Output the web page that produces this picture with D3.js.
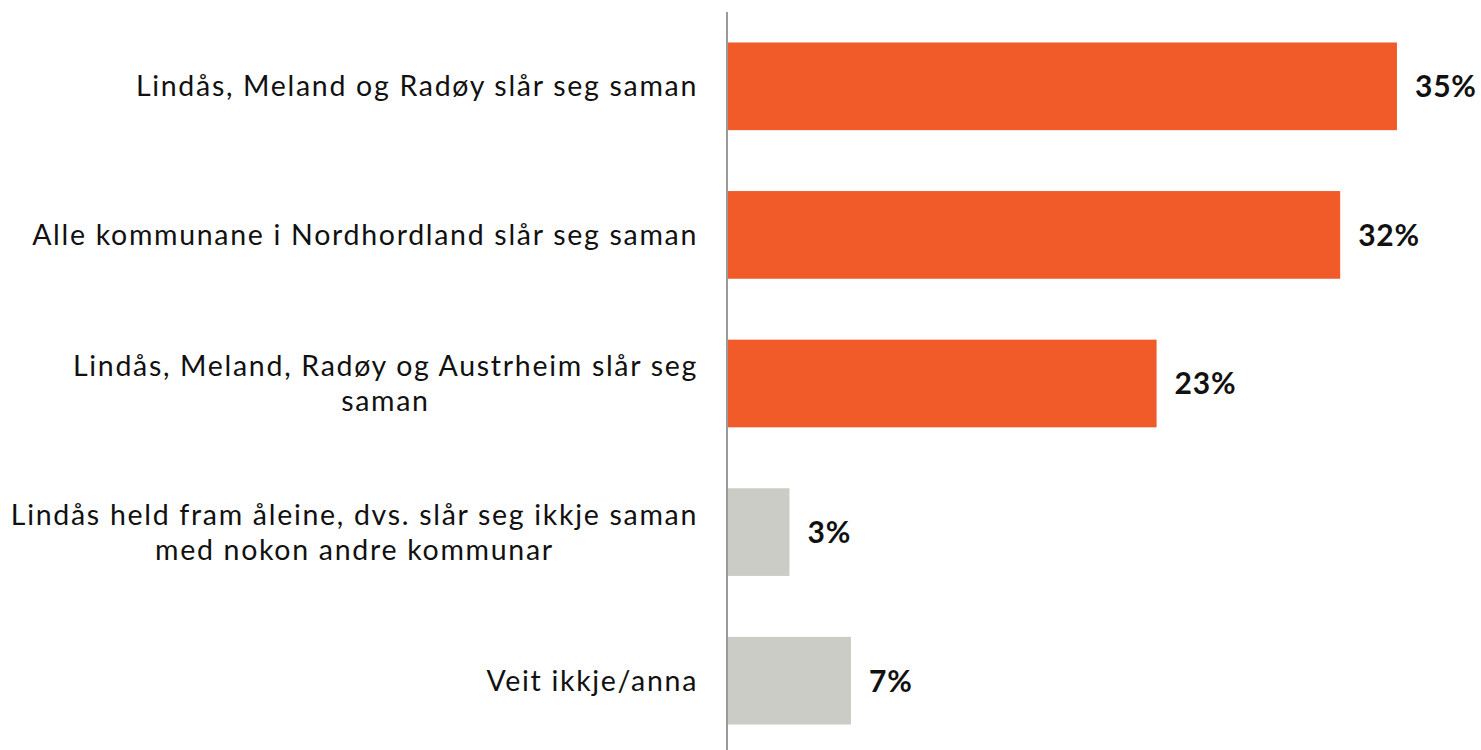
<!DOCTYPE html>
<html>
<head>
<meta charset="utf-8">
<script src="https://cdn.jsdelivr.net/npm/d3@7"></script>
<style>
  html, body { margin: 0; padding: 0; background: #ffffff; }
  svg { display: block; }
</style>
</head>
<body>
<svg id="chart" width="1481" height="750"></svg>
<script>
// ---- Data ----
const categories = [
  "Lindås, Meland og Radøy slår seg saman",
  "Alle kommunane i Nordhordland slår seg saman",
  "Lindås, Meland, Radøy og Austrheim slår seg\nsaman",
  "Lindås held fram åleine, dvs. slår seg ikkje saman\nmed nokon andre kommunar",
  "Veit ikkje/anna"
];
const values = [35.4, 32.4, 22.7, 3.3, 6.55];
const highlighted = [true, true, true, false, false];
const xDomain = [0, 40];

// ---- Layout ----
const W = 1481, H = 750;
const svg = d3.select("#chart");
const axisX = 727;

const x = d3.scaleLinear().domain(xDomain).range([axisX, axisX + 757]);
const y = d3.scaleBand().domain(categories).range([12, 755])
  .paddingInner(0.41).paddingOuter(0.205);

const orange = "#F15A29", grey = "#CBCCC6";

// bars
svg.append("g").selectAll("rect").data(categories).join("rect")
  .attr("x", x(0))
  .attr("y", d => y(d))
  .attr("width", (d, i) => x(values[i]) - x(0))
  .attr("height", y.bandwidth())
  .attr("fill", (d, i) => highlighted[i] ? orange : grey);

// axis line
const yAxis = d3.axisLeft(y).tickSize(0).tickFormat("");
const ga = svg.append("g").attr("transform", `translate(${axisX},0)`).call(yAxis);
ga.select(".domain").attr("stroke", "#9a9a9a").attr("stroke-width", 2)
  .attr("d", `M0,12V${H}`);

// category labels (centered block, right-aligned)
const labelFont = "Lato, 'Open Sans', sans-serif";
const labelSize = 28.5;
const lineH = 35;
const rightEdge = 698;
const lg = svg.append("g");
categories.forEach((c, i) => {
  const lines = c.split("\n");
  const cy = y(c) + y.bandwidth() / 2;
  const t = lg.append("text")
    .attr("font-family", labelFont)
    .attr("font-size", labelSize)
    .attr("letter-spacing", "1.7px")
    .attr("fill", "#111")
    .attr("text-anchor", "middle");
  const tspans = lines.map((ln, k) => t.append("tspan")
    .attr("x", 0)
    .attr("y", cy + (k - (lines.length - 1) / 2) * lineH)
    .attr("dy", "0.35em")
    .text(ln));
  let maxW = 0;
  tspans.forEach(ts => { maxW = Math.max(maxW, ts.node().getComputedTextLength()); });
  tspans.forEach(ts => ts.attr("x", rightEdge - maxW / 2));
});

// value labels
svg.append("g").selectAll("text").data(categories).join("text")
  .attr("x", (d, i) => x(values[i]) + 18)
  .attr("y", d => y(d) + y.bandwidth() / 2)
  .attr("dy", "0.36em")
  .attr("font-family", labelFont)
  .attr("font-weight", 700)
  .attr("font-size", 30)
  .attr("letter-spacing", "0.8px")
  .attr("fill", "#111")
  .text((d, i) => d3.format(".0f")(values[i]) + "%");
</script>
</body>
</html>
